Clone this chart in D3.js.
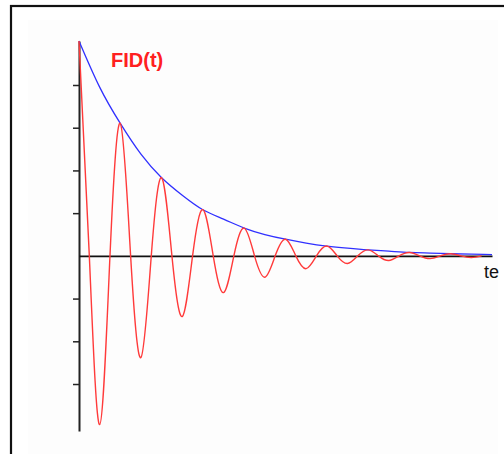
<!DOCTYPE html>
<html>
<head>
<meta charset="utf-8">
<script src="https://cdn.jsdelivr.net/npm/d3@7"></script>
<style>
  html, body { margin: 0; padding: 0; background: #fff; }
  svg { display: block; }
</style>
</head>
<body>
<div id="chart"></div>
<script>
// FID signal, one sample every quarter period (t in periods)
const fidTimes = [0, 0.25, 0.5, 0.75, 1, 1.25, 1.5, 1.75, 2, 2.25, 2.5, 2.75, 3, 3.25, 3.5, 3.75,
  4, 4.25, 4.5, 4.75, 5, 5.25, 5.5, 5.75, 6, 6.25, 6.5, 6.75, 7, 7.25, 7.5, 7.75,
  8, 8.25, 8.5, 8.75, 9, 9.25, 9.5, 9.75];
const fidValues = [5.03, 0, -3.95, 0, 3.1, 0, -2.38, 0, 1.83, 0, -1.42, 0, 1.08, 0, -0.86, 0,
  0.65, 0, -0.5, 0, 0.39, 0, -0.3, 0, 0.23, 0, -0.18, 0, 0.14, 0, -0.11, 0,
  0.08, 0, -0.065, 0, 0.05, 0, -0.04, 0];

// Envelope (decay) curve
const envTimes = [0, 0.5, 1, 1.5, 2, 2.5, 3, 3.5, 4, 4.5, 5, 5.5, 6, 6.5, 7, 7.5, 8, 8.5, 9, 9.5, 10];
const envValues = [5.03, 3.95, 3.1, 2.38, 1.83, 1.42, 1.08, 0.86, 0.65, 0.5, 0.39, 0.3, 0.23, 0.18,
  0.14, 0.11, 0.08, 0.065, 0.05, 0.04, 0.03];

const yTicks = [-3, -2, -1, 1, 2, 3, 4];
const titleText = "FID(t)";
const xLabel = "te"; // only this much of the axis label is visible in the picture

const width = 504, height = 454;

const svg = d3.select("#chart")
  .append("svg")
  .attr("width", width)
  .attr("height", height);

// outer frame (only top and left visible)
svg.append("rect")
  .attr("x", 11).attr("y", 6)
  .attr("width", 520).attr("height", 480)
  .attr("fill", "none")
  .attr("stroke", "#111")
  .attr("stroke-width", 2.2);

// faint inner panel
svg.append("rect")
  .attr("x", 28).attr("y", 20)
  .attr("width", 470).attr("height", 440)
  .attr("fill", "#fdfdfd");

const g = svg.append("g");

// scales
const x = d3.scaleLinear().domain([0, 10]).range([79, 492]);
const y = d3.scaleLinear().domain([-4.1, 5.03]).range([431, 41]);

// y axis with ticks on the left
const yAxis = g.append("g")
  .attr("transform", `translate(${x(0)},0)`)
  .call(d3.axisLeft(y).tickValues(yTicks).tickSize(6).tickSizeOuter(0).tickFormat(""));
yAxis.select(".domain").attr("stroke", "#222").attr("stroke-width", 2);
yAxis.selectAll(".tick line").attr("stroke", "#222").attr("stroke-width", 1.5);

// x axis, no ticks
const xAxis = g.append("g")
  .attr("transform", `translate(0,${y(0)})`)
  .call(d3.axisBottom(x).tickValues([]).tickSizeOuter(0));
xAxis.select(".domain").attr("stroke", "#111").attr("stroke-width", 1.6);

// envelope
const envData = envTimes.map((t, i) => ({ t, v: envValues[i] }));
g.append("path")
  .datum(envData)
  .attr("fill", "none")
  .attr("stroke", "#3030ff")
  .attr("stroke-width", 1.3)
  .attr("d", d3.line().x(d => x(d.t)).y(d => y(d.v)).curve(d3.curveNatural));

// FID signal
const fidData = fidTimes.map((t, i) => ({ t, v: fidValues[i] }));
g.append("path")
  .datum(fidData)
  .attr("fill", "none")
  .attr("stroke", "#ff3a3a")
  .attr("stroke-width", 1.4)
  .attr("d", d3.line().x(d => x(d.t)).y(d => y(d.v)).curve(d3.curveNatural));

// title
g.append("text")
  .attr("x", 111)
  .attr("y", 67)
  .attr("fill", "#ff2020")
  .style("font-family", "Liberation Sans, Arial, sans-serif")
  .style("font-size", "20px")
  .style("font-weight", "bold")
  .text(titleText);

// x label
g.append("text")
  .attr("x", 484)
  .attr("y", 278)
  .attr("fill", "#111")
  .style("font-family", "Liberation Sans, Arial, sans-serif")
  .style("font-size", "18px")
  .text(xLabel);
</script>
</body>
</html>
